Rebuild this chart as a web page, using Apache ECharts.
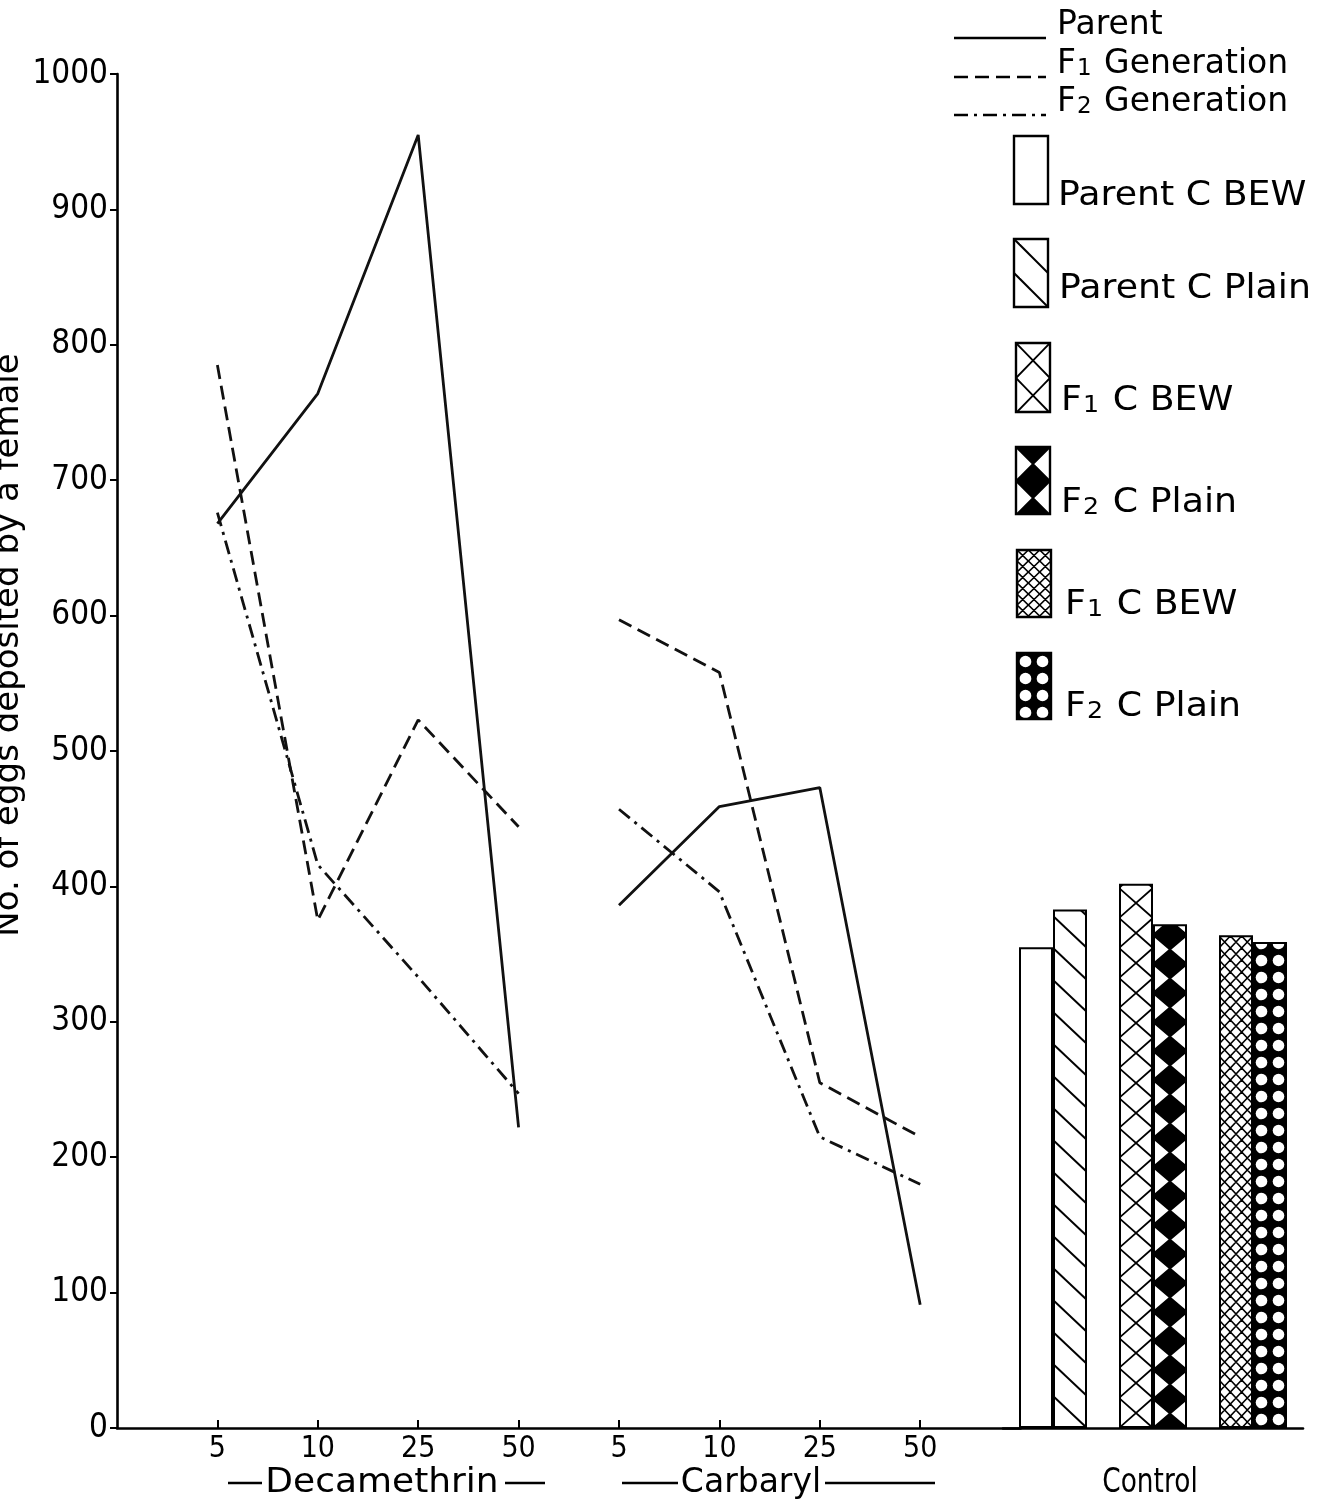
<!DOCTYPE html>
<html>
<head>
<meta charset="utf-8">
<title>Eggs deposited per female</title>
<script src="https://cdn.jsdelivr.net/npm/echarts@6/dist/echarts.min.js"></script>
<style>
  html, body { margin: 0; padding: 0; background: #fff; }
  #chart { width: 1331px; height: 1504px; }
</style>
</head>
<body>
<div id="chart"></div>
<script>
// ---- data ----
const doses = ['5', '10', '25', '50'];
const insecticides = ['Decamethrin', 'Carbaryl'];

const parentDecamethrin = [668, 764, 955, 222];
const f1Decamethrin     = [785, 375, 523, 444];
const f2Decamethrin     = [676, 416, 333, 247];

const parentCarbaryl = [386, 459, 473, 91];
const f1Carbaryl     = [597, 558, 255, 215];
const f2Carbaryl     = [457, 396, 215, 180];

const controlGroups = ['Parent', 'F1', 'F2'];
const controlBEW    = [355, 402, 364];
const controlPlain  = [383, 372, 359];

const lineLegend = ['Parent', 'F1 Generation', 'F2 Generation'];
const barLegend = ['Parent C BEW', 'Parent C Plain', 'F1 C BEW', 'F2 C Plain', 'F1 C BEW', 'F2 C Plain'];
const controlCaption = 'Control';
const yAxisTitle = 'No. of eggs deposited by a female';

// ---- fonts ----
const FONT = "'DejaVu Sans', sans-serif";
const NARROW = "'DejaVu Sans Condensed', 'DejaVu Sans', sans-serif";

// ---- hatch patterns (tile phase tied to a page position) ----
function tile(w, h, x0, y0, bg, draw) {
  const c = document.createElement('canvas');
  c.width = w; c.height = h;
  const ctx = c.getContext('2d');
  ctx.fillStyle = bg;
  ctx.fillRect(0, 0, w, h);
  const ox = ((x0 % w) + w) % w, oy = ((y0 % h) + h) % h;
  for (let i = -1; i <= 1; i++) {
    for (let j = -1; j <= 1; j++) {
      ctx.save();
      ctx.translate(ox + i * w, oy + j * h);
      draw(ctx, w, h);
      ctx.restore();
    }
  }
  return { type: 'pattern', image: c, repeat: 'repeat' };
}
function drawDiag(ctx, w, h) {
  ctx.strokeStyle = '#000'; ctx.lineWidth = 2;
  ctx.beginPath(); ctx.moveTo(0, 0); ctx.lineTo(w, h); ctx.stroke();
}
function drawCross(ctx, w, h) {
  ctx.strokeStyle = '#000'; ctx.lineWidth = 1.8;
  ctx.beginPath();
  ctx.moveTo(0, 0); ctx.lineTo(w, h);
  ctx.moveTo(0, h); ctx.lineTo(w, 0);
  ctx.stroke();
}
function drawBowtie(ctx, w, h) {
  ctx.fillStyle = '#000';
  ctx.beginPath(); ctx.moveTo(0, 0); ctx.lineTo(w, 0); ctx.lineTo(w / 2, h / 2); ctx.closePath(); ctx.fill();
  ctx.beginPath(); ctx.moveTo(0, h); ctx.lineTo(w, h); ctx.lineTo(w / 2, h / 2); ctx.closePath(); ctx.fill();
  drawCross(ctx, w, h);
}
function drawFine(ctx, w, h) {
  const n = 3, cw = w / n;
  ctx.strokeStyle = '#000'; ctx.lineWidth = 1.6;
  ctx.beginPath();
  for (let k = 0; k < n; k++) {
    ctx.moveTo(k * cw, 0); ctx.lineTo((k + 1) * cw, h);
    ctx.moveTo(k * cw, h); ctx.lineTo((k + 1) * cw, 0);
  }
  ctx.stroke();
}
function drawDots(ctx, w, h) {
  ctx.fillStyle = '#fff';
  [w / 4, 3 * w / 4].forEach(cx => {
    ctx.beginPath(); ctx.arc(cx, h / 2, 5.8, 0, Math.PI * 2); ctx.fill();
  });
}

// ---- layout ----
const W = 1331, H = 1504;
const plotTop = 74, plotBottom = 1428;
const leftX = 117;
const lineStep = 100.4;
const barGridLeft = 1003, barGridWidth = 300, barWidth = 34;
const bandW = barGridWidth / controlGroups.length;
const barLeft = (g, k) => barGridLeft + bandW * g + (bandW - 2 * barWidth) / 2 + k * barWidth;

const bewFills = [
  '#fff',
  tile(34, 30, barLeft(1, 0), plotBottom, '#fff', drawCross),
  tile(34, 12, barLeft(2, 0), plotBottom, '#fff', drawFine)
];
const plainFills = [
  tile(34, 32, barLeft(0, 1), plotBottom, '#fff', drawDiag),
  tile(34, 29, barLeft(1, 1), plotBottom, '#fff', drawBowtie),
  tile(34, 17, barLeft(2, 1), plotBottom, '#000', drawDots)
];

// category axis: blank slots at both ends, then the four doses for each insecticide
const categories = [''].concat(doses, doses, ['']);
const pad = (vals, before, after) =>
  Array(before).fill(null).concat(vals, Array(after).fill(null));

const solid = 'solid';
const dashed = [14, 7];
const dashDot = [14, 6, 3, 6];

function lineSeries(name, vals, before, type) {
  return {
    name: name, type: 'line', xAxisIndex: 0, yAxisIndex: 0,
    data: pad(vals, before, categories.length - before - vals.length),
    symbol: 'none', connectNulls: false,
    lineStyle: { color: '#111', width: 2.8, type: type },
    silent: true
  };
}

const series = [
  lineSeries(lineLegend[0] + ' ' + insecticides[0], parentDecamethrin, 1, solid),
  lineSeries(lineLegend[1] + ' ' + insecticides[0], f1Decamethrin, 1, dashed),
  lineSeries(lineLegend[2] + ' ' + insecticides[0], f2Decamethrin, 1, dashDot),
  lineSeries(lineLegend[0] + ' ' + insecticides[1], parentCarbaryl, 5, solid),
  lineSeries(lineLegend[1] + ' ' + insecticides[1], f1Carbaryl, 5, dashed),
  lineSeries(lineLegend[2] + ' ' + insecticides[1], f2Carbaryl, 5, dashDot),
  {
    name: 'Control BEW', type: 'bar', xAxisIndex: 1, yAxisIndex: 1,
    barWidth: barWidth, barGap: '0%',
    data: controlBEW.map((v, i) => ({ value: v, itemStyle: { color: bewFills[i] } })),
    itemStyle: { borderColor: '#000', borderWidth: 2 },
    silent: true
  },
  {
    name: 'Control Plain', type: 'bar', xAxisIndex: 1, yAxisIndex: 1,
    barWidth: barWidth, barGap: '0%',
    data: controlPlain.map((v, i) => ({ value: v, itemStyle: { color: plainFills[i] } })),
    itemStyle: { borderColor: '#000', borderWidth: 2 },
    silent: true
  }
];

// ---- legend & captions ----
const graphic = [];
const legendLines = [
  { y: 38, dash: null, ty: 25 },
  { y: 77, dash: dashed, ty: 64 },
  { y: 115, dash: dashDot, ty: 102 }
];
const richStyles = {
  n: { fontSize: 33, fontFamily: FONT, color: '#000' },
  s: { fontSize: 23, fontFamily: FONT, color: '#000', verticalAlign: 'bottom', padding: [0, 2, 0, 1] }
};
function legendText(label) {
  // F1 / F2 are written with a smaller generation digit
  const m = label.match(/^F(\d)(.*)$/);
  return m ? '{n|F}{s|' + m[1] + '}{n|' + m[2] + '}' : '{n|' + label + '}';
}
legendLines.forEach((l, i) => {
  graphic.push({
    type: 'line', silent: true,
    shape: { x1: 954, y1: l.y, x2: 1046, y2: l.y },
    style: { stroke: '#000', lineWidth: 2.6, lineDash: l.dash }
  });
  graphic.push({
    type: 'text', silent: true, x: 1057, y: l.ty,
    style: { x: 0, y: 0, text: legendText(lineLegend[i]), rich: richStyles, textVerticalAlign: 'middle' }
  });
});

const boxes = [
  { x: 1014, y: 136, h: 68, fill: () => '#fff', tx: 1058, ty: 196 },
  { x: 1014, y: 239, h: 68, fill: (x, y) => tile(34, 34, x, y, '#fff', drawDiag), tx: 1059, ty: 289 },
  { x: 1016, y: 343, h: 69, fill: (x, y) => tile(34, 35, x, y, '#fff', drawCross), tx: 1061, ty: 401 },
  { x: 1016, y: 447, h: 67, fill: (x, y) => tile(34, 34, x, y, '#fff', drawBowtie), tx: 1061, ty: 503 },
  { x: 1017, y: 550, h: 67, fill: (x, y) => tile(34, 11, x, y, '#fff', drawFine), tx: 1065, ty: 605 },
  { x: 1017, y: 653, h: 66, fill: (x, y) => tile(34, 17, x, y, '#000', drawDots), tx: 1065, ty: 707 }
];
boxes.forEach((b, i) => {
  graphic.push({
    type: 'rect', silent: true,
    shape: { x: b.x, y: b.y, width: 34, height: b.h },
    style: { fill: b.fill(b.x, b.y), stroke: '#000', lineWidth: 2.4 }
  });
  graphic.push({
    type: 'text', silent: true, x: b.tx, y: b.ty, scaleX: 1.1,
    style: { x: 0, y: 0, text: legendText(barLegend[i]), rich: richStyles, textVerticalAlign: 'middle' }
  });
});

// group captions under the category axis
const captionY = 1483;
const captions = [
  { text: insecticides[0], cx: 382, sx: 1.09, dashes: [[228, 262], [505, 545]] },
  { text: insecticides[1], cx: 751, sx: 1.0, dashes: [[622, 678], [825, 935]] },
  { text: controlCaption, cx: 1150, sx: 0.8, dashes: [] }
];
captions.forEach(c => {
  graphic.push({
    type: 'text', silent: true, x: c.cx, y: captionY, scaleX: c.sx,
    style: { x: 0, y: 0, text: c.text, font: '33px ' + FONT, fill: '#000', textAlign: 'center', textVerticalAlign: 'middle' }
  });
  c.dashes.forEach(d => graphic.push({
    type: 'line', silent: true,
    shape: { x1: d[0], y1: captionY, x2: d[1], y2: captionY },
    style: { stroke: '#000', lineWidth: 2.4 }
  }));
});

// y axis title, running bottom to top along the left edge
graphic.push({
  type: 'text', silent: true, rotation: Math.PI / 2, x: 9, y: 645,
  style: { x: 0, y: 0, text: yAxisTitle, font: '34px ' + FONT, fill: '#000', textAlign: 'center', textVerticalAlign: 'middle' }
});

// ---- chart ----
const chart = echarts.init(document.getElementById('chart'), null, { renderer: 'canvas', width: W, height: H });
const axisLineStyle = { color: '#000', width: 2.6 };

chart.setOption({
  animation: false,
  backgroundColor: '#fff',
  grid: [
    { left: leftX, top: plotTop, width: lineStep * (categories.length - 1), height: plotBottom - plotTop },
    { left: barGridLeft, top: plotTop, width: barGridWidth, height: plotBottom - plotTop }
  ],
  xAxis: [
    {
      type: 'category', gridIndex: 0, data: categories, boundaryGap: false,
      axisLine: { show: true, lineStyle: axisLineStyle },
      axisTick: { show: true, inside: true, length: 8, interval: (i) => i >= 1 && i <= 8, lineStyle: { color: '#000', width: 2 } },
      axisLabel: { interval: 0, color: '#000', fontSize: 30, fontFamily: NARROW, margin: 6 },
      splitLine: { show: false }
    },
    {
      type: 'category', gridIndex: 1, data: controlGroups,
      axisLine: { show: true, lineStyle: axisLineStyle },
      axisTick: { show: false },
      axisLabel: { show: false },
      splitLine: { show: false }
    }
  ],
  yAxis: [
    {
      type: 'value', gridIndex: 0, min: 0, max: 1000, interval: 100,
      axisLine: { show: true, lineStyle: axisLineStyle },
      axisTick: { show: true, length: 7, lineStyle: { color: '#000', width: 2 } },
      axisLabel: { color: '#000', fontSize: 33, fontFamily: NARROW, margin: 9, formatter: (v) => String(v) },
      splitLine: { show: false }
    },
    {
      type: 'value', gridIndex: 1, min: 0, max: 1000, show: false,
      splitLine: { show: false }
    }
  ],
  series: series,
  graphic: graphic
});
</script>
</body>
</html>
